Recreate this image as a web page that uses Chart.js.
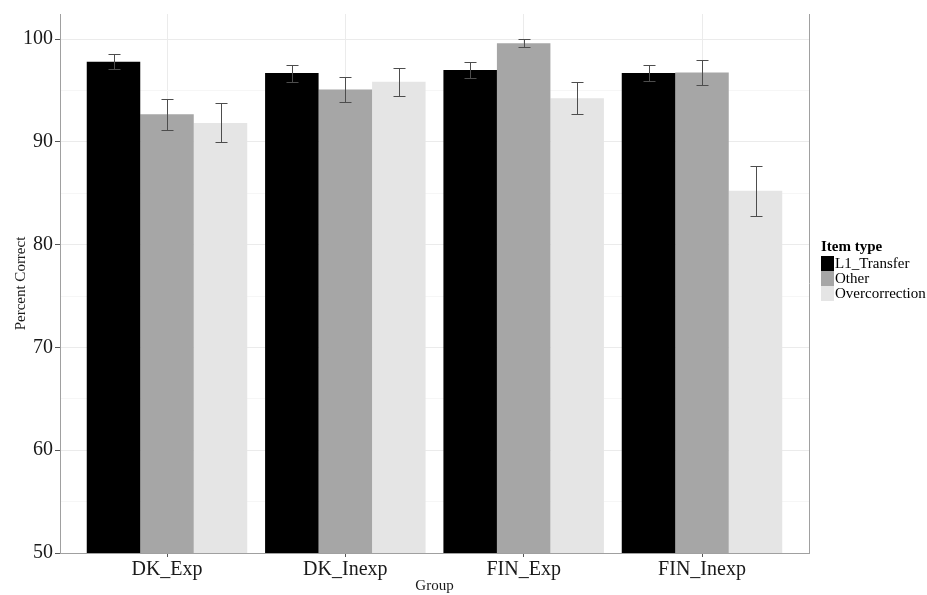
<!DOCTYPE html>
<html>
<head>
<meta charset="utf-8">
<script src="https://cdn.jsdelivr.net/npm/chart.js@4.4.1/dist/chart.umd.min.js"></script>
<style>
  html, body { margin: 0; padding: 0; background: #fff; }
  #wrap { position: relative; width: 927px; height: 595px; }
  #legend { position: absolute; left: 821px; top: 238px; font-family: "Liberation Serif", serif; color: #000; }
  #legend .title { font-weight: bold; font-size: 15px; line-height: 17px; height: 18px; }
  #legend .item { display: flex; align-items: center; height: 15px; font-size: 15px; line-height: 15px; }
  #legend .box { width: 13px; height: 15px; margin-right: 1px; }
</style>
</head>
<body>
<div id="wrap">
  <canvas id="c" width="927" height="595"></canvas>
  <div id="legend"></div>
</div>
<script>
const categories = ['DK_Exp', 'DK_Inexp', 'FIN_Exp', 'FIN_Inexp'];
const seriesNames = ['L1_Transfer', 'Other', 'Overcorrection'];
const l1Transfer = [97.8, 96.7, 97.0, 96.7];
const other = [92.7, 95.1, 99.6, 96.75];
const overcorrection = [91.85, 95.85, 94.25, 85.25];
const l1TransferErr = [0.72, 0.83, 0.77, 0.78];
const otherErr = [1.5, 1.2, 0.39, 1.2];
const overcorrectionErr = [1.9, 1.36, 1.55, 2.45];
const yTicks = [50, 55, 60, 65, 70, 75, 80, 85, 90, 95, 100];
const colors = ['#000000', '#a6a6a6', '#e5e5e5'];

const values = [l1Transfer, other, overcorrection];
const errors = [l1TransferErr, otherErr, overcorrectionErr];

const datasets = seriesNames.map((name, s) => ({
  label: name,
  data: categories.map((c, i) => ({ x: i + 1, y: values[s][i] })),
  backgroundColor: colors[s],
  borderWidth: 0,
  categoryPercentage: 0.9,
  barPercentage: 1.0,
  errors: errors[s]
}));

const errorBarPlugin = {
  id: 'errorBars',
  afterDatasetsDraw(chart) {
    const ctx = chart.ctx;
    const yScale = chart.scales.y;
    ctx.save();
    ctx.strokeStyle = '#4d4d4d';
    ctx.lineWidth = 1;
    chart.data.datasets.forEach((ds, di) => {
      const meta = chart.getDatasetMeta(di);
      meta.data.forEach((el, i) => {
        const v = ds.data[i].y;
        const e = ds.errors[i];
        const x = Math.round(el.x) + 0.5;
        const yTop = Math.round(yScale.getPixelForValue(v + e)) + 0.5;
        const yBot = Math.round(yScale.getPixelForValue(v - e)) + 0.5;
        ctx.beginPath();
        ctx.moveTo(x, yTop); ctx.lineTo(x, yBot);
        ctx.moveTo(x - 6, yTop); ctx.lineTo(x + 6, yTop);
        ctx.moveTo(x - 6, yBot); ctx.lineTo(x + 6, yBot);
        ctx.stroke();
      });
    });
    ctx.restore();
  }
};

const rightBorderPlugin = {
  id: 'rightBorder',
  afterDraw(chart) {
    const a = chart.chartArea;
    const ctx = chart.ctx;
    ctx.save();
    ctx.strokeStyle = '#a0a0a0';
    ctx.lineWidth = 1;
    ctx.beginPath();
    ctx.moveTo(Math.round(a.right) + 0.5, a.top);
    ctx.lineTo(Math.round(a.right) + 0.5, a.bottom);
    ctx.stroke();
    ctx.restore();
  }
};

new Chart(document.getElementById('c'), {
  type: 'bar',
  data: { datasets },
  plugins: [errorBarPlugin, rightBorderPlugin],
  options: {
    responsive: false,
    animation: false,
    layout: { padding: { top: 13, right: 118, left: 0, bottom: 0 } },
    plugins: {
      legend: { display: false },
      tooltip: { enabled: false }
    },
    scales: {
      x: {
        type: 'linear',
        min: 0.4,
        max: 4.6,
        offset: false,
        afterBuildTicks: (s) => { s.ticks = categories.map((c, i) => ({ value: i + 1 })); },
        afterFit: (s) => { s.height = 42; },
        ticks: {
          autoSkip: false,
          maxRotation: 0,
          padding: 1,
          color: '#1a1a1a',
          font: { family: '"Liberation Serif", serif', size: 20 },
          callback: (v) => categories[Math.round(v) - 1] || ''
        },
        grid: {
          offset: false,
          color: '#ebebeb',
          tickColor: '#555555',
          tickLength: 4,
          drawTicks: true
        },
        border: { color: '#a0a0a0', width: 1 },
        title: {
          display: true,
          text: 'Group',
          color: '#1a1a1a',
          font: { family: '"Liberation Serif", serif', size: 15 },
          padding: { top: 0, bottom: 0 }
        }
      },
      y: {
        type: 'linear',
        min: 50,
        max: 102.45,
        afterBuildTicks: (s) => { s.ticks = yTicks.map(v => ({ value: v })); },
        afterFit: (s) => { s.width = 60; },
        ticks: {
          padding: 2,
          color: '#1a1a1a',
          font: { family: '"Liberation Serif", serif', size: 20 },
          callback: (v) => (v % 10 === 0 ? String(v) : '')
        },
        grid: {
          color: (c) => (c.tick && c.tick.value % 10 === 0 ? '#ebebeb' : '#f6f6f6'),
          tickColor: (c) => (c.tick && c.tick.value % 10 === 0 ? '#555555' : 'rgba(0,0,0,0)'),
          tickLength: 5
        },
        border: { color: '#a0a0a0', width: 1 },
        title: {
          display: true,
          text: 'Percent Correct',
          color: '#1a1a1a',
          font: { family: '"Liberation Serif", serif', size: 15 },
          padding: { top: 12, bottom: 0 }
        }
      }
    }
  }
});

const legend = document.getElementById('legend');
let html = '<div class="title">Item type</div>';
seriesNames.forEach((n, s) => {
  html += '<div class="item"><span class="box" style="background:' + colors[s] + '"></span><span>' + n + '</span></div>';
});
legend.innerHTML = html;
</script>
</body>
</html>
